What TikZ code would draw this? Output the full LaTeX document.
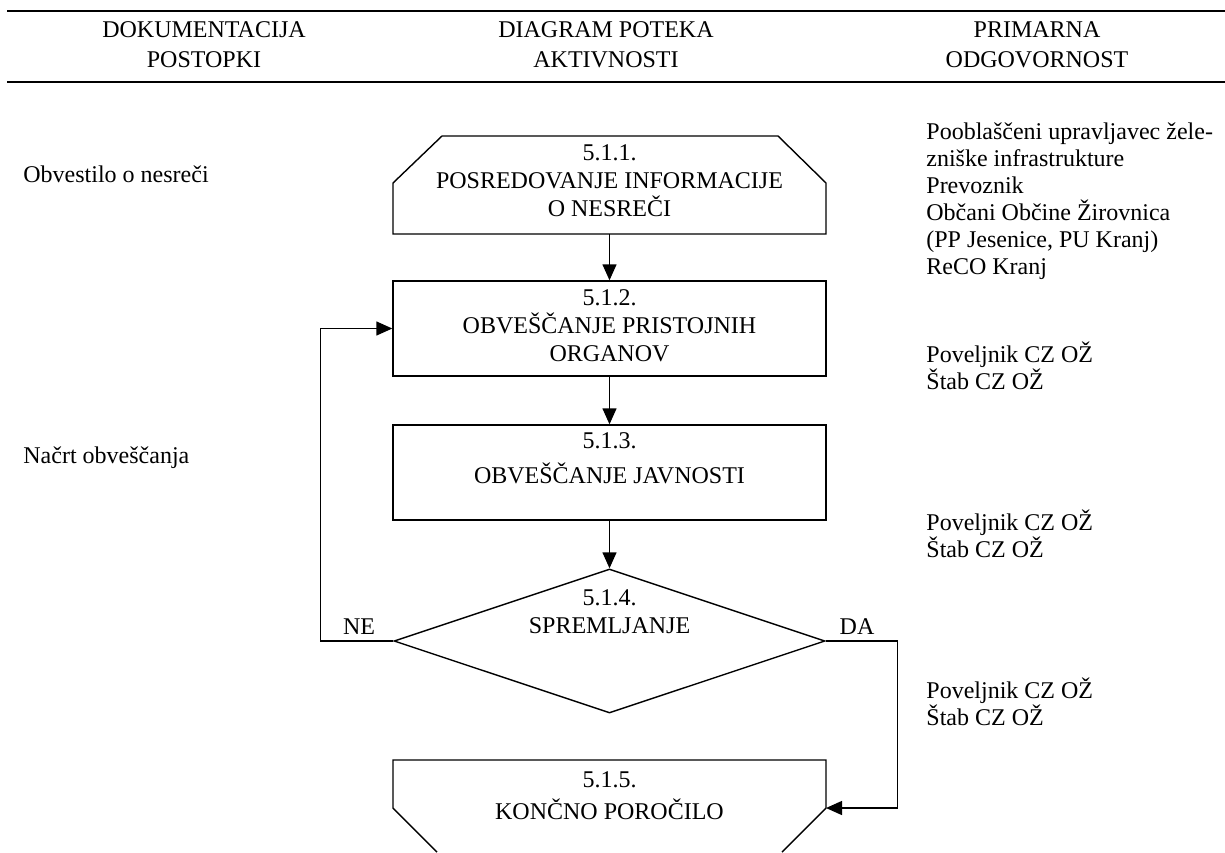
\documentclass[tikz,border=0pt]{standalone}
\usepackage{fontspec}
\setmainfont{Liberation Serif}
\usetikzlibrary{arrows.meta,shapes.geometric}
\newcommand{\stackL}[2]{\vtop{\baselineskip=#1\lineskiplimit=-20pt\lineskip=0pt\halign{##\hfil\cr#2\crcr}}}
\newcommand{\stackC}[2]{\vtop{\baselineskip=#1\lineskiplimit=-20pt\lineskip=0pt\halign{\hfil##\hfil\cr#2\crcr}}}
\begin{document}
\begin{tikzpicture}[x=0.5pt,y=-0.5pt,
  font=\fontsize{12}{14}\selectfont,
  rule/.style={line width=1.1pt},
  shp/.style={draw,line width=0.7pt},
  box/.style={shp,rectangle,minimum width=216.5pt,minimum height=47.5pt,inner sep=0pt},
  dia/.style={shp,diamond,minimum width=215.5pt,minimum height=72pt,inner sep=0pt},
  txt/.style={inner sep=0pt,anchor=base},
  ltxt/.style={inner sep=0pt,anchor=base west},
  arr/.style={line width=0.7pt,-{Triangle[length=8pt,width=7pt]}}]
\useasboundingbox (0,0) rectangle (1225,852);
% header
\draw[rule] (7,11) -- (1225,11);
\draw[rule] (7,82) -- (1225,82);
\node[txt] (h1) at (204,37) {\stackC{15pt}{DOKUMENTACIJA\cr POSTOPKI}};
\node[txt] (h2) at (606,37) {\stackC{15pt}{DIAGRAM POTEKA\cr AKTIVNOSTI}};
\node[txt] (h3) at (1037,37) {\stackC{15pt}{PRIMARNA\cr ODGOVORNOST}};
% left column
\node[ltxt] (l1) at (23,182) {Obvestilo o nesreči};
\node[ltxt] (l2) at (23,463) {Načrt obveščanja};
% right column
\node[ltxt] (r1) at (926,139) {\stackL{13.5pt}{Pooblaščeni upravljavec žele-\cr zniške infrastrukture\cr Prevoznik\cr Občani Občine Žirovnica\cr (PP Jesenice, PU Kranj)\cr ReCO Kranj}};
\node[ltxt] (r2) at (926,362) {\stackL{13.75pt}{Poveljnik CZ OŽ\cr Štab CZ OŽ}};
\node[ltxt] (r3) at (926,530) {\stackL{13.75pt}{Poveljnik CZ OŽ\cr Štab CZ OŽ}};
\node[ltxt] (r4) at (926,698) {\stackL{13.75pt}{Poveljnik CZ OŽ\cr Štab CZ OŽ}};
% box 1 (chamfered top)
\draw[shp] (393,234) -- (393,183) -- (442,136) -- (778,136) -- (826,183) -- (826,234) -- cycle;
\coordinate (b1s) at (609.5,234);
\node[txt] (t1) at (609.5,160) {\stackC{14pt}{5.1.1.\cr POSREDOVANJE INFORMACIJE\cr O NESREČI}};
% box 2
\node[box] (b2) at (609.5,328.5) {};
\node[txt] (t2) at (609.5,305) {\stackC{14pt}{5.1.2.\cr OBVEŠČANJE PRISTOJNIH\cr ORGANOV}};
% box 3
\node[box] (b3) at (609.5,472.5) {};
\node[txt] (t3) at (609.5,448) {\stackC{14pt}{5.1.3.\cr\noalign{\vskip3.5pt} OBVEŠČANJE JAVNOSTI}};
% decision
\node[dia] (d) at (609.5,641) {};
\node[txt] (t4) at (609.5,605.5) {\stackC{14pt}{5.1.4.\cr SPREMLJANJE}};
\node[txt] (ne) at (359,634) {NE};
\node[txt] (da) at (857,634) {DA};
% box 5 (chamfered bottom, cut by page edge)
\draw[shp] (437,852) -- (393,808) -- (393,760) -- (826,760) -- (826,808) -- (782,852);
\coordinate (b5r) at (826,808);
\node[txt] (t5) at (609.5,787) {\stackC{14pt}{5.1.5.\cr\noalign{\vskip2pt} KONČNO POROČILO}};
% connectors
\draw[arr] (b1s) -- (b2.north);
\draw[arr] (b2.south) -- (b3.north);
\draw[arr] (b3.south) -- (d.north);
\draw[arr] (d.west) -- ++(-73,0) |- (b2.west);
\draw[arr] (d.east) -- ++(72,0) |- (b5r);
\end{tikzpicture}
\end{document}
